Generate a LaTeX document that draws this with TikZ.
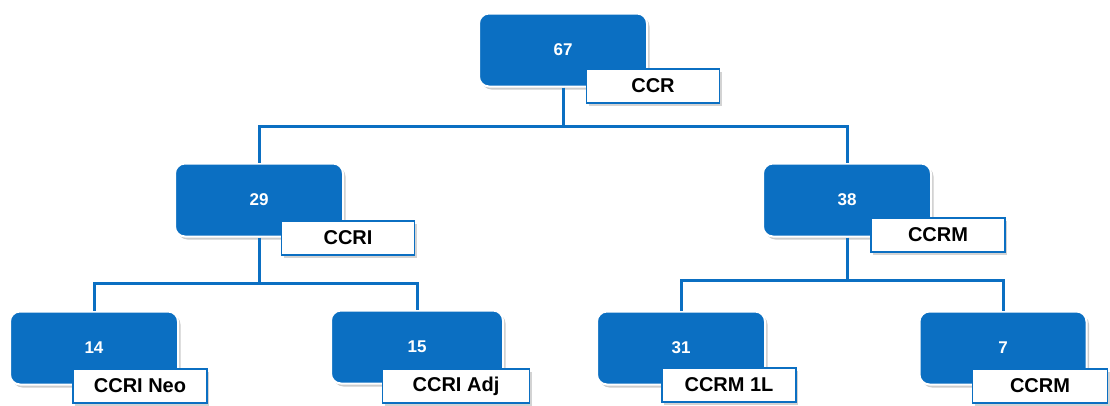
\documentclass[tikz,border=0pt]{standalone}
\usepackage{fontspec}
\setmainfont{Liberation Sans}
\usetikzlibrary{shadows}
\definecolor{treeblue}{HTML}{0B6FC2}
\tikzset{
  countbox/.style={rectangle, rounded corners=10pt, fill=treeblue, draw=white,
    line width=2pt, text=white, font=\bfseries\fontsize{17}{17}\selectfont,
    minimum height=73pt,
    drop shadow={shadow xshift=2.5pt, shadow yshift=-3pt, opacity=0.4}},
  namebox/.style={rectangle, fill=white, draw=treeblue, line width=1.8pt,
    text=black, font=\bfseries\fontsize{20}{20}\selectfont,
    minimum height=34pt,
    drop shadow={shadow xshift=2pt, shadow yshift=-2.5pt, opacity=0.35}},
  conn/.style={draw=treeblue, line width=3pt}
}
\begin{document}
\begin{tikzpicture}[x=1pt,y=-1pt]
\useasboundingbox (0,0) rectangle (1110,405);

% heights of the horizontal branch lines
\coordinate (jTop) at (563,126);
\coordinate (jL) at (259,283);
\coordinate (jR) at (847,280);

% count boxes
\node[countbox, minimum width=168pt] (top) at (563,50) {67};
\node[countbox, minimum width=168pt] (ccri) at (259,200) {29};
\node[countbox, minimum width=168pt] (ccrm) at (847,200) {38};
\node[countbox, minimum width=168pt] (neo) at (94,348) {14};
\node[countbox, minimum width=172pt] (adj) at (417,347) {15};
\node[countbox, minimum width=168pt] (one) at (681,348) {31};
\node[countbox, minimum width=167pt] (seven) at (1003,348) {7};

% tree connectors
\draw[conn] (top.south) -- (top.south |- jTop) -| (ccri.north);
\draw[conn] (top.south |- jTop) -| (ccrm.north);
\draw[conn] (ccri.south) -- (ccri.south |- jL) -| (neo.north);
\draw[conn] (ccri.south |- jL) -| (adj.north);
\draw[conn] (ccrm.south) -- (ccrm.south |- jR) -| (one.north);
\draw[conn] (ccrm.south |- jR) -| (seven.north);

% name labels overlapping the lower right of each count box
\node[namebox, minimum width=133pt] (lccr) at (653,86) {CCR};
\node[namebox, minimum width=133pt] (lccri) at (348,238) {CCRI};
\node[namebox, minimum width=134pt] (lccrm) at (938,235) {CCRM};
\node[namebox, minimum width=134pt] (lneo) at (140,386) {CCRI Neo};
\node[namebox, minimum width=147pt] (ladj) at (456,386) {CCRI Adj};
\node[namebox, minimum width=134pt] (lone) at (729,385) {CCRM 1L};
\node[namebox, minimum width=135pt] (lseven) at (1040,386) {CCRM};
\end{tikzpicture}
\end{document}
